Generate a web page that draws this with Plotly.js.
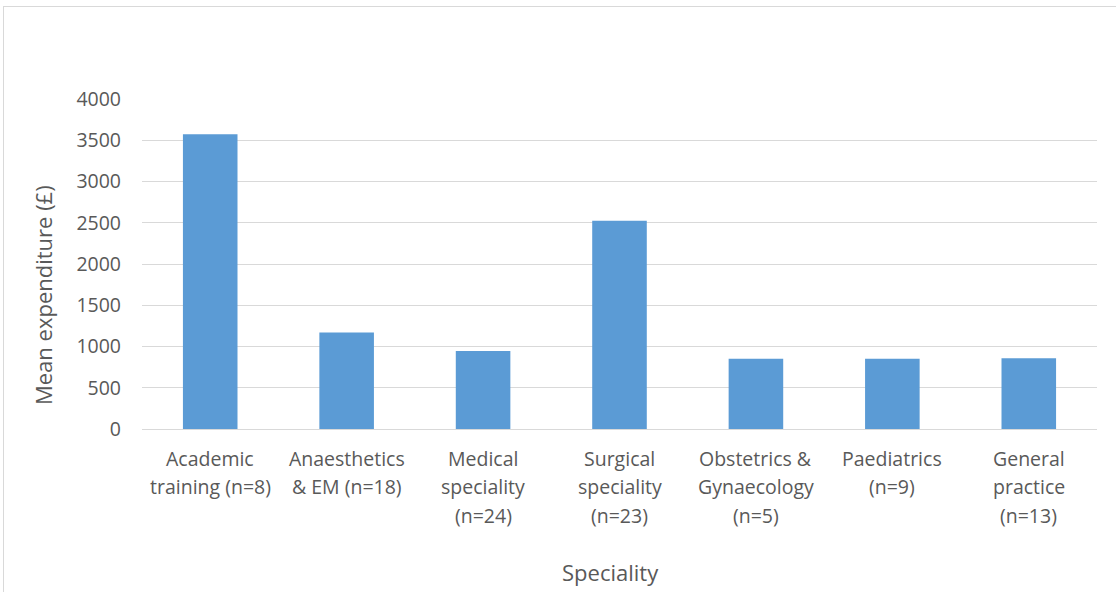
<!DOCTYPE html>
<html>
<head>
<meta charset="utf-8">
<script src="https://cdn.plot.ly/plotly-3.0.1.min.js"></script>
<style>
html,body{margin:0;padding:0;background:#fff;}
#wrap{position:relative;width:1116px;height:592px;overflow:hidden;}
#frame{position:absolute;left:3px;top:6px;width:1130px;height:600px;border:1px solid #D9D9D9;box-sizing:border-box;pointer-events:none;}
#chart{position:absolute;left:0;top:0;width:1116px;height:592px;}
</style>
</head>
<body>
<div id="wrap"><div id="chart"></div><div id="frame"></div></div>
<script>
const categories = [
  "Academic<br>training (n=8)",
  "Anaesthetics<br>& EM (n=18)",
  "Medical<br>speciality<br>(n=24)",
  "Surgical<br>speciality<br>(n=23)",
  "Obstetrics &<br>Gynaecology<br>(n=5)",
  "Paediatrics<br>(n=9)",
  "General<br>practice<br>(n=13)"
];
const meanExpenditure = [3572, 1170, 945, 2525, 851, 851, 859];
const yTickVals = [0, 500, 1000, 1500, 2000, 2500, 3000, 3500, 4000];
const xTitle = "Speciality";
const yTitle = "Mean expenditure (£)";

const textColor = "#595959";
const fontFam = "'Open Sans', 'Liberation Sans', sans-serif";

const annotations = [];
categories.forEach((c) => {
  c.split("<br>").forEach((line, i) => {
    annotations.push({
      x: c, xref: "x", y: 0, yref: "paper",
      text: line, showarrow: false,
      xanchor: "center", yanchor: "middle",
      yshift: -(29 + i * 28.5),
      font: {family: fontFam, size: 19.5, color: textColor}
    });
  });
});
annotations.push({
  x: 0.491, xref: "paper", y: 0, yref: "paper",
  text: xTitle, showarrow: false, xanchor: "center", yanchor: "middle",
  yshift: -143, font: {family: fontFam, size: 22, color: textColor}
});
annotations.push({
  x: 0, xref: "paper", y: 0.406, yref: "paper",
  text: yTitle, showarrow: false, textangle: -90,
  xanchor: "center", yanchor: "middle", xshift: -99,
  font: {family: fontFam, size: 22, color: textColor}
});

const data = [{
  type: "bar",
  x: categories,
  y: meanExpenditure,
  marker: {color: "#5B9BD5"},
  hoverinfo: "x+y"
}];

const layout = {
  width: 1116, height: 592,
  margin: {l: 142, r: 19, t: 99, b: 163},
  paper_bgcolor: "rgba(0,0,0,0)",
  plot_bgcolor: "#fff",
  bargap: 0.6,
  showlegend: false,
  font: {family: fontFam, color: textColor},
  xaxis: {
    type: "category",
    showticklabels: false,
    showgrid: false,
    showline: false,
    ticks: "",
    fixedrange: true
  },
  yaxis: {
    range: [0, 4000],
    tickvals: yTickVals,
    ticktext: yTickVals.map(String),
    showgrid: true,
    gridcolor: "#D9D9D9",
    gridwidth: 1,
    zeroline: true,
    zerolinecolor: "#D9D9D9",
    zerolinewidth: 1,
    showline: false,
    ticks: "",
    ticklabelstandoff: 20,
    tickfont: {family: fontFam, size: 19.5, color: textColor},
    fixedrange: true
  },
  annotations: annotations
};

Plotly.newPlot("chart", data, layout, {displayModeBar: false, staticPlot: true});
</script>
</body>
</html>
